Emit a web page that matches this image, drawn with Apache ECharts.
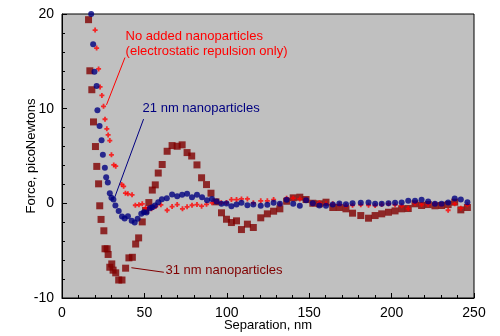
<!DOCTYPE html>
<html>
<head>
<meta charset="utf-8">
<style>
  html, body { margin: 0; padding: 0; background: #fff; }
  #chart { width: 500px; height: 336px; }
</style>
<script src="https://cdn.jsdelivr.net/npm/echarts@6/dist/echarts.min.js"></script>
</head>
<body>
<div id="chart"></div>
<script>
// separation (nm) / force (pN)
const sepNone = [20.1, 21, 22.2, 23.1, 24.2, 25.2, 26.1, 27.2, 28, 29, 30, 31.4, 32.6, 36.2, 37.4, 38.5, 40, 42.5,
  44.5, 46.7, 48.7, 50.7, 52.5, 54.3, 56.9, 60, 63.8, 66.8, 69.9, 73.1, 75.9, 78.9, 81.9, 84.7, 87.7, 91, 93.8, 96.6,
  99.8, 102.8, 105.9, 108.9, 112.5, 116.1, 120.6, 124.6, 128.4, 132.2, 136.3, 140.3, 144.3, 148.1, 152.2, 156.2,
  160.2, 164.3, 168.3, 172.3, 176.3, 181.3, 186, 190, 194, 198.1, 202.1, 206.1, 210.1, 214.2, 218.2, 222.2, 226.3,
  230.3, 234.3, 238.3, 242, 246];
const forceNone = [18.3, 16.4, 14.2, 12.3, 11.4, 10.25, 8.88, 7.87, 7.23, 6.63, 5.12, 4.06, 3.92, 2.0, 1.8, 1.07, 1.0, 0.9,
  -0.2, -0.16, -0.05, -0.48, -0.51, -0.58, -0.34, -0.16, -0.73, -0.34, -0.13, -0.58, -0.37, -0.2, -0.13, -0.3, -0.1, 0.05, 0.19, 0.05,
  0.08, 0.4, 0.4, 0.47, 0.47, 0.05, 0.26, 0.26, 0.4, -0.1, 0.54, 0.54, 0.47, 0.37, -0.05, 0.05,
  -0.05, -0.05, -0.13, -0.23, -0.2, -0.16, -0.2, -0.23, -0.13, -0.05, -0.16, -0.26, -0.55, 0.01, -0.13, -0.1, -0.05,
  -0.13, -0.73, -0.05, -0.51, -0.16];

const sep21 = [17.7, 18.9, 19.7, 21, 21.5, 22.8, 24, 24.8, 26, 26.8, 27.8, 29, 30, 31.2, 32.4, 34.4, 36.4, 38, 40, 42.3,
  44.1, 45.9, 48.1, 49.7, 51.3, 53.3, 54.8, 56.4, 58.4, 60.6, 63.6, 66.8, 69.9, 72.9, 75.9, 78.9, 81.9, 85, 88, 91,
  93.8, 96.8, 99.8, 102.8, 105.9, 108.9, 112.5, 116.1, 120.6, 124.6, 128.4, 132.2, 136.3, 140.3, 144.3, 148.1,
  152.2, 156.2, 160.2, 164.3, 168.3, 172.3, 176.3, 181.3, 186, 190, 194, 198.1, 202.1, 206.1, 210.1, 214.2, 218.2,
  222.2, 226.3, 230.3, 234.3, 238.3, 242, 246];
const force21 = [20.0, 16.8, 13.9, 12.4, 9.83, 8.18, 6.66, 5.12, 3.75, 2.76, 2.2, 1.07, 0.58, 0.4, -0.23, -0.8, -1.39, -1.6, -1.36, -1.85,
  -2.03, -1.64, -1.11, -0.94, -0.97, -0.51, -0.41, -0.23, 0.12, 0.43, 0.54, 0.93, 0.75, 0.9, 1.0, 0.65, 0.9, 0.65, 0.33, 0.47,
  0.19, -0.05, -0.02, -0.3, -0.13, 0.05, -0.2, -0.13, -0.26, -0.16, 0.05, -0.05, 0.37, -0.05, -0.26, 0.33,
  0.01, -0.23, -0.26, -0.13, -0.02, -0.1, 0.01, 0.05, 0.08, -0.05, -0.05, 0.01, 0.05, 0.08, 0.26, 0.26, 0.37,
  0.19, -0.05, -0.05, 0.08, 0.51, 0.4, 0.12];

const sep31 = [16.1, 16.9, 18.1, 19.1, 20.3, 21.1, 22.2, 22.9, 23.7, 25.4, 26.1, 27.4, 28, 29, 30.2, 31, 32.6, 34.4, 36.4,
  38.6, 40.6, 42.7, 44.7, 46.5, 48.7, 50.7, 52.7, 54.8, 56.6, 58.4, 60.8, 63.8, 66.8, 69.9, 72.9, 75.9, 78.7, 81.9,
  84.7, 87.7, 90.4, 93.4, 96.8, 99.8, 102.8, 105.9, 108.9, 112.5, 116.1, 120.6, 124.6, 128.4, 132.2, 136.3, 140.3,
  144.3, 148.1, 152.2, 156.2, 160.2, 164.3, 168.3, 172.3, 176.3, 181.3, 186, 190, 194, 198.1, 202.1, 206.1, 210.1,
  214.2, 218.2, 222.2, 226.3, 230.3, 234.3, 238.3, 242, 246];
const force31 = [19.4, 14.0, 12.0, 8.6, 6.0, 3.9, 2.06, -0.26, -1.7, -2.9, -4.8, -4.8, -5.4, -6.75, -6.4, -7.06, -7.34, -8.1, -8.1,
  -6.85, -5.76, -5.7, -4.3, -3.65, -1.96, -0.76, 0.08, 1.4, 1.95, 3.2, 4.1, 5.5, 6.1, 6.03, 6.18, 5.36, 5.0, 4.06,
  2.7, 1.98, 1.07, 0.16, -1.0, -1.68, -2.03, -1.85, -2.77, -2.2, -2.55, -1.53, -1.11, -0.83, -0.58, 0.22, 0.58,
  0.65, 0.4, 0.01, -0.05, 0.12, -0.44, -0.44, -0.58, -1.04, -1.29, -1.57, -1.29, -1.11, -0.94, -0.8, -0.58, -0.55,
  -0.05, -0.23, -0.13, -0.26, -0.23, -0.13, 0.12, -0.69, -0.44];

const xTicks = [0, 50, 100, 150, 200, 250];
const yTicks = [-10, 0, 10, 20];

const RED = "#ff0000";
const NAVY = "#000080";
const MAROON = "#800000";
const FONT = "Liberation Sans, Arial, sans-serif";

// annotation text anchors and leader lines, in data units
const notes = [
  { lines: ["No added nanoparticles", "(electrostatic repulsion only)"], at: [38.6, 17.6], color: RED,
    from: [38.2, 15.4], to: [27, 10.4] },
  { lines: ["21 nm nanoparticles"], at: [48.9, 10.0], color: NAVY, from: [49.5, 8.9], to: [32, 0.64] },
  { lines: ["31 nm nanoparticles"], at: [62.8, -7.1], color: MAROON, from: [61.8, -7.28], to: [42.1, -6.8] },
];

const zip = (xs, ys) => xs.map((x, i) => [x, ys[i]]);
const chart = echarts.init(document.getElementById("chart"), null, { renderer: "canvas" });

const axisCommon = {
  axisLine: { show: true, onZero: false, lineStyle: { color: "#000", width: 1 } },
  axisTick: { show: true, inside: true, length: 5, lineStyle: { color: "#000" } },
  minorTick: { show: true, splitNumber: 5, length: 3, lineStyle: { color: "#000" } },
  splitLine: { show: false },
  axisLabel: { color: "#000", fontSize: 14, fontFamily: FONT, margin: 8 },
  nameTextStyle: { color: "#000", fontSize: 13, fontFamily: FONT },
  nameMoveOverlap: false,
};

chart.setOption({
  animation: false,
  grid: {
    left: 62, right: 26, top: 14, bottom: 38, outerBoundsMode: "none",
    show: true, backgroundColor: "#c0c0c0", borderColor: "#000", borderWidth: 1,
  },
  xAxis: Object.assign({}, axisCommon, {
    type: "value", min: xTicks[0], max: xTicks[xTicks.length - 1], interval: 50,
    name: "Separation, nm", nameLocation: "middle", nameGap: 21,
  }),
  yAxis: Object.assign({}, axisCommon, {
    type: "value", min: yTicks[0], max: yTicks[yTicks.length - 1], interval: 10,
    name: "Force, picoNewtons", nameLocation: "middle", nameGap: 24,
  }),
  series: [
    { name: "none", type: "scatter", data: zip(sepNone, forceNone),
      symbol: "path://M1.6,0H3.4V1.6H5V3.4H3.4V5H1.6V3.4H0V1.6H1.6Z",
      symbolSize: 5, itemStyle: { color: RED }, z: 3 },
    { name: "21 nm", type: "scatter", data: zip(sep21, force21), symbol: "circle", symbolSize: 6,
      itemStyle: { color: NAVY }, z: 4 },
    { name: "31 nm", type: "scatter", data: zip(sep31, force31), symbol: "rect", symbolSize: 7,
      itemStyle: { color: MAROON }, z: 2 },
  ],
});

const graphics = [];
notes.forEach((n) => {
  const p0 = chart.convertToPixel({ gridIndex: 0 }, n.from);
  const p1 = chart.convertToPixel({ gridIndex: 0 }, n.to);
  graphics.push({ type: "line", shape: { x1: p0[0], y1: p0[1], x2: p1[0], y2: p1[1] },
    style: { stroke: n.color, lineWidth: 1 }, z: 10 });
  const t = chart.convertToPixel({ gridIndex: 0 }, n.at);
  n.lines.forEach((line, i) => {
    graphics.push({ type: "text", x: t[0], y: t[1] + i * 15,
      style: { text: line, fill: n.color, font: "13px " + FONT, textVerticalAlign: "middle", verticalAlign: "middle" }, z: 10 });
  });
});
chart.setOption({ graphic: graphics });
</script>
</body>
</html>
